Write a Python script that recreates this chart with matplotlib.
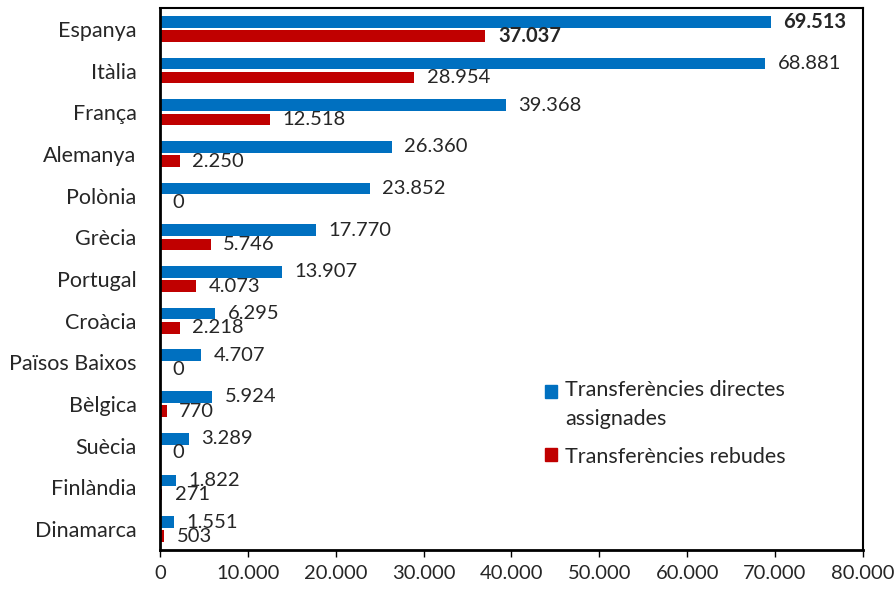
import matplotlib
matplotlib.use("Agg")
import matplotlib.pyplot as plt
import matplotlib.patches as mpatches
from matplotlib.legend_handler import HandlerPatch
import numpy as np

# data
countries = ["Espanya", "Itàlia", "França", "Alemanya", "Polònia", "Grècia",
             "Portugal", "Croàcia", "Països Baixos", "Bèlgica", "Suècia",
             "Finlàndia", "Dinamarca"]
directes = [69513, 68881, 39368, 26360, 23852, 17770, 13907, 6295, 4707,
            5924, 3289, 1822, 1551]
rebudes = [37037, 28954, 12518, 2250, 0, 5746, 4073, 2218, 0, 770, 0, 271, 503]
xticks = [0, 10000, 20000, 30000, 40000, 50000, 60000, 70000, 80000]

blue = "#0070C0"
red = "#C00000"
txt = "#262626"

plt.rcParams['font.family'] = ['Lato', 'DejaVu Sans']


def fmt(v):
    return f"{v:,}".replace(",", ".")


# legend square aligned with the first line of a two-line label
def top_square(legend, orig_handle, xdescent, ydescent, width, height, fontsize):
    return mpatches.Rectangle((-xdescent, -ydescent + 0.62 * fontsize), width, height)


fig = plt.figure(figsize=(8.96, 5.9), dpi=100)
ax = fig.add_axes([0.1786, 0.0678, 0.7844, 0.9186])

y = np.arange(len(countries))
h = 0.28
off = 0.17
ax.barh(y - off, directes, height=h, color=blue)
ax.barh(y + off, rebudes, height=h, color=red)

for i, (a, b) in enumerate(zip(directes, rebudes)):
    w = "bold" if i == 0 else "normal"
    ax.annotate(fmt(a), (a, y[i] - off), xytext=(9, 0), textcoords="offset points",
                va="center", ha="left", fontsize=14.5, color=txt, fontweight=w)
    ax.annotate(fmt(b), (b, y[i] + off), xytext=(9, 0), textcoords="offset points",
                va="center", ha="left", fontsize=14.5, color=txt, fontweight=w)

ax.set_ylim(len(countries) - 0.5, -0.5)
ax.set_xlim(0, 80000)
ax.set_yticks(y)
ax.set_yticklabels(countries, fontsize=15.5, color=txt)
ax.tick_params(axis="y", length=0, pad=17)
ax.set_xticks(xticks)
ax.set_xticklabels([fmt(t) for t in xticks], fontsize=14.5, color=txt)
ax.tick_params(axis="x", direction="out", length=5, width=1, pad=6)

for s in ax.spines.values():
    s.set_linewidth(1.5)
    s.set_color("black")
ax.spines["left"].set_linewidth(2)
ax.spines["bottom"].set_linewidth(2)

p1 = mpatches.Patch(color=blue)
p2 = mpatches.Patch(color=red)
leg = ax.legend([p1, p2],
                ["Transferències directes\nassignades", "Transferències rebudes"],
                loc="upper left", bbox_to_anchor=(0.52, 0.35), frameon=False,
                fontsize=15.5, handlelength=0.55, handleheight=0.55,
                handletextpad=0.4, labelspacing=0.8,
                handler_map={p1: HandlerPatch(patch_func=top_square)})
for t in leg.get_texts():
    t.set_color(txt)
    t.set_linespacing(1.6)

fig.savefig("out.png", dpi=100)
